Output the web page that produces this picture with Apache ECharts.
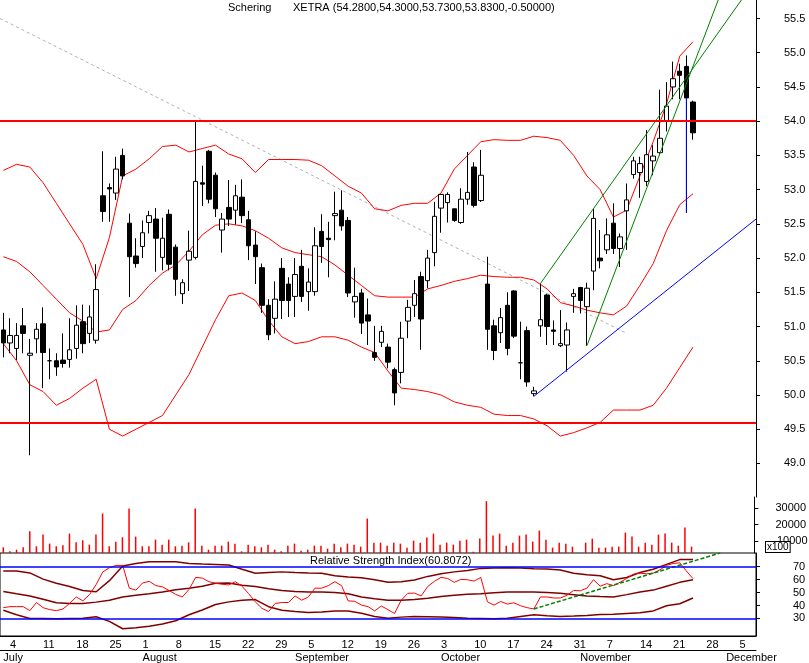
<!DOCTYPE html>
<html><head><meta charset="utf-8">
<script src="https://cdn.jsdelivr.net/npm/echarts@6/dist/echarts.min.js"></script>
<style>html,body{margin:0;padding:0;background:#fff}#c{width:809px;height:663px}</style>
</head><body><div id="c"></div>
<script>
// ---- data ----
const monthNames = ['July','August','September','October','November','December'];
const opens = [50.95,50.76,50.68,51.01,50.58,50.82,51.04,50.50,50.50,50.51,50.52,50.68,51.07,50.90,50.80,52.91,53.03,52.95,53.50,52.51,52.03,52.17,52.52,52.57,52.01,52.64,52.16,51.48,51.97,52.01,53.10,53.56,53.21,52.41,52.74,52.70,52.89,52.56,52.19,51.86,51.31,51.12,51.85,51.62,51.44,51.88,51.51,51.51,52.39,52.29,52.62,52.70,52.55,51.36,51.49,51.17,50.62,50.77,50.70,50.37,50.33,51.08,51.31,51.73,51.67,52.08,52.73,52.81,52.72,52.52,52.86,53.33,52.84,51.62,51.01,50.91,51.31,51.52,50.47,50.94,50.02,51.01,51.46,50.95,50.72,50.73,51.44,51.57,51.29,51.81,52.00,52.12,52.51,52.14,52.69,53.22,53.25,53.12,53.42,53.54,54.00,54.50,54.73,54.80,54.28];
const closes = [50.76,50.87,50.87,50.90,50.61,50.96,50.62,50.50,50.41,50.46,50.66,51.02,50.75,51.14,51.54,52.68,53.01,53.30,53.20,52.02,51.92,52.37,52.62,52.29,52.29,51.91,51.69,51.64,52.10,53.12,53.08,52.86,52.72,52.57,52.57,52.91,52.62,52.18,52.02,51.31,50.88,51.40,51.38,51.38,51.76,51.44,51.65,52.18,52.17,52.27,52.65,52.47,51.49,51.44,51.05,51.08,50.55,50.93,50.48,50.03,50.83,51.28,51.48,51.11,52.00,52.61,52.93,52.93,52.55,52.86,52.96,52.77,53.21,50.96,50.65,51.13,50.68,50.86,50.47,50.19,50.06,51.10,51.00,50.93,50.75,50.95,51.48,51.38,51.56,52.58,51.96,52.34,52.14,52.31,52.85,53.42,53.38,53.51,53.49,53.75,54.22,54.62,54.67,54.34,53.83];
const lows = [50.55,50.61,50.51,50.61,49.12,50.61,50.10,50.23,50.28,50.40,50.40,50.53,50.61,50.76,50.75,52.53,52.53,52.85,53.15,51.43,51.86,52.00,52.36,51.80,51.82,51.82,51.45,51.33,51.52,51.98,52.76,52.80,52.60,52.08,52.47,52.49,52.51,51.97,51.62,51.20,50.80,50.90,51.11,51.14,51.14,51.36,51.23,51.45,51.93,51.72,52.26,52.40,51.43,51.13,50.89,50.73,50.50,50.70,50.39,49.85,50.17,50.83,51.14,50.66,51.56,51.88,52.37,52.52,52.53,52.50,52.78,52.74,52.82,50.66,50.51,50.76,50.58,50.83,50.23,50.12,49.98,50.85,50.73,50.73,50.70,50.34,51.20,51.19,50.72,51.53,51.85,52.06,52.06,51.87,52.12,53.16,52.88,53.05,53.21,53.50,53.85,54.32,54.32,52.66,53.73];
const highs = [51.20,51.12,51.05,51.27,50.82,51.05,51.28,50.68,50.61,50.90,51.12,51.31,51.32,51.31,51.91,53.56,53.09,53.48,53.60,52.65,52.29,52.55,52.69,52.73,52.59,52.71,52.20,51.69,52.40,54.00,53.35,53.58,53.25,52.66,53.14,53.07,53.15,52.69,52.39,51.92,51.40,51.66,52.00,51.72,52.00,52.12,51.85,52.45,52.64,52.53,52.97,52.99,52.60,51.86,51.55,51.41,51.01,51.01,50.75,50.40,51.07,51.39,51.68,51.80,52.12,52.82,52.93,52.96,52.72,53.02,53.55,53.40,53.58,52.02,51.10,51.27,51.50,51.53,51.07,51.00,50.12,51.63,51.48,51.09,51.24,51.06,51.55,51.58,51.64,52.72,52.41,52.58,52.80,52.36,53.09,53.48,53.48,53.87,53.65,54.46,54.57,54.87,54.84,54.96,54.30];
const volumes = [6400,4000,5000,6400,16000,7000,14000,8600,7000,7600,14600,9400,10600,8000,14000,26600,7000,9800,12400,29600,12800,7000,7000,11000,8000,11000,7000,7400,9400,29600,7400,5000,7400,7400,9800,8600,4000,8000,7000,6400,8000,5000,4000,7400,8600,4400,5000,7400,7400,5600,8600,6400,8600,8000,6800,23600,9200,9200,7400,9200,8600,6200,10400,9200,12200,14600,8000,9200,8000,10400,11000,3800,11600,34000,13400,14600,7400,9200,13400,14000,9800,16400,11000,6200,9200,8600,6800,3000,9200,11600,6200,6200,6800,6800,15200,12800,6800,9200,8000,14000,14600,9200,7400,18200,6800];
const rsi = [38.3,39.1,39.1,39.1,36.0,42.3,38.3,36.8,36.0,37.3,41.6,46.6,43.6,48.4,56.2,66.0,69.2,71.0,71.0,53.4,51.9,57.4,58.7,55.4,54.4,51.6,48.6,46.6,52.4,61.7,61.2,58.4,57.2,56.4,55.9,58.4,54.9,49.1,42.8,37.8,35.3,41.6,42.3,42.3,47.4,44.1,46.6,53.4,53.4,55.4,58.4,55.4,43.6,43.2,40.3,39.1,35.8,39.6,36.8,33.8,44.1,49.4,49.6,47.4,54.7,58.7,61.7,60.9,57.9,60.2,59.9,58.9,61.7,42.8,40.3,43.1,41.1,42.1,39.8,38.3,37.3,46.6,46.6,45.8,45.8,47.9,51.6,51.4,53.4,59.9,54.9,56.9,55.4,57.9,60.9,64.2,65.0,64.5,65.0,67.5,71.0,72.5,73.0,66.7,60.8];
// band readings at every second trading day (0,2,...,104)
const bbUpper = [53.28,53.37,53.33,53.1,52.8,52.5,52.2,51.7,52.3,53.2,53.3,53.45,53.63,53.65,53.55,53.6,53.65,53.52,53.45,53.25,53.44,53.44,53.44,53.43,53.35,53.2,53.05,52.95,52.72,52.69,52.77,52.8,52.8,52.95,53.3,53.5,53.7,53.73,53.72,53.72,53.78,53.76,53.72,53.5,53.2,53.0,52.6,52.7,53.2,53.7,54.25,54.95,55.16];
const bbMiddle = [52.02,51.95,51.8,51.6,51.4,51.2,51.08,50.92,50.95,51.25,51.38,51.6,51.78,51.9,52.1,52.34,52.48,52.5,52.47,52.4,52.29,52.15,52.08,52.05,52.02,51.9,51.75,51.6,51.45,51.43,51.43,51.43,51.55,51.6,51.66,51.7,51.75,51.73,51.72,51.72,51.68,51.55,51.35,51.3,51.24,51.2,51.17,51.3,51.6,51.92,52.4,52.78,52.94];
const bbLower = [50.75,50.5,50.15,50.05,49.85,49.95,50.1,50.23,49.5,49.4,49.5,49.6,49.7,50.0,50.3,50.7,51.1,51.45,51.49,51.38,51.09,50.85,50.75,50.78,50.85,50.85,50.8,50.7,50.62,50.35,50.1,50.08,50.05,50.0,49.9,49.85,49.82,49.72,49.7,49.7,49.65,49.55,49.4,49.45,49.52,49.6,49.78,49.78,49.78,49.85,50.1,50.4,50.7];
const rsiUpper = [66.7,66.7,65.2,60.4,57.2,54.7,51.6,50.6,59.2,70.5,72.5,73.8,73.8,73.8,72.5,72.0,71.8,71.3,68.0,65.0,65.5,66.0,65.5,65.2,65.0,63.0,62.0,61.4,59.9,57.9,58.4,59.7,62.5,64.5,66.0,67.0,68.7,69.0,69.2,69.0,68.5,68.2,67.5,65.0,63.7,63.0,59.9,61.7,65.5,68.0,71.8,75.5,75.5];
const rsiMiddle = [50.9,49.1,47.4,44.8,42.1,41.6,41.6,42.6,44.1,46.6,47.9,49.1,50.4,52.1,53.4,54.9,57.2,57.4,55.7,54.7,52.9,51.6,50.9,50.4,50.4,50.1,49.1,46.6,45.3,44.1,44.1,44.6,45.6,46.9,47.9,48.6,49.1,49.9,50.4,50.4,50.4,50.1,49.4,48.4,47.4,46.9,46.6,48.4,50.4,51.9,54.9,57.9,59.9];
const rsiLower = [36.3,32.8,30.0,30.0,29.7,30.0,30.2,31.3,27.7,22.0,22.7,24.0,25.7,28.2,32.8,36.5,40.8,42.8,44.1,44.6,39.1,36.3,35.3,34.5,35.0,35.8,35.8,34.0,31.5,30.2,31.0,31.5,31.3,31.0,30.7,30.2,30.0,29.7,30.2,31.5,32.8,32.0,31.5,31.8,32.3,33.0,33.3,33.8,34.3,35.8,39.8,41.3,45.8];
const hLevels = [54.0, 49.6];
const grayTrend = [[-0.5,55.5],[94,50.9]];
const greenTrendA = [[81,51.63],[111.3,55.77]];
const greenTrendB = [[88,50.72],[107.8,55.77]];
const blueTrend = [[80,49.98],[113.5,52.57]];
const blueWick = [[103,54.34],[103,52.66]];
const rsiTrend = [[80,37.3],[108.1,80.6]];
const priceTicks = [49,49.5,50,50.5,51,51.5,52,52.5,53,53.5,54,54.5,55,55.5];
const volTicks = [20000,30000];
const rsiTicks = [30,40,50,60,70];

// trading-day categories Jul 1 2005 .. Dec 7 2005
const days = [];
for (let d = new Date(Date.UTC(2005,6,1)); d <= new Date(Date.UTC(2005,11,7)); d.setUTCDate(d.getUTCDate()+1)) {
  const wd = d.getUTCDay(); if (wd===0||wd===6) continue;
  days.push({m:d.getUTCMonth(), d:d.getUTCDate(), wd});
}
const cats = days.map((x,i)=>String(i));
const N = cats.length;
const isMon = i => days[i] && days[i].wd===1;
const isMonthStart = i => days[i] && (i===0 || days[i].m!==days[i-1].m);
const idx2 = bbUpper.map((_,k)=>k*2);
const pairs = (arr)=>arr.map((v,k)=>[idx2[k],v]);

const F = 'Liberation Sans, Arial, sans-serif';
const chart = echarts.init(document.getElementById('c'));
const L = 0, W = 756;
const noSym = {showSymbol:false, symbol:'none', silent:true};
const yLine = {show:true, onZero:false, lineStyle:{color:'#000'}};
chart.setOption({
  animation:false,
  textStyle:{fontFamily:F},
  grid:[
    {left:L, width:W, top:0, height:497, show:false},
    {left:L, width:W, top:497, height:56, show:false},
    {left:L, width:W, top:553, height:85, show:true, borderColor:'#000', borderWidth:1, backgroundColor:'transparent'}
  ],
  xAxis:[
    {type:'category', gridIndex:0, data:cats, show:false},
    {type:'value', gridIndex:0, min:-0.5, max:N-0.5, show:false},
    {type:'category', gridIndex:1, data:cats, show:false},
    {type:'category', gridIndex:2, data:cats, position:'bottom',
      axisLine:{onZero:false, lineStyle:{color:'#000'}},
      axisTick:{interval:(i)=>isMon(i)||isMonthStart(i), length:14, lineStyle:{color:'#000'}},
      axisLabel:{interval:(i)=>isMon(i), formatter:(v)=>String(days[+v].d), align:'left', margin:3, fontSize:11, color:'#000', fontFamily:F}},
    {type:'category', gridIndex:2, data:cats, position:'bottom', offset:14,
      axisLine:{onZero:false, lineStyle:{color:'#000'}},
      axisTick:{interval:(i)=>isMonthStart(i), length:12, lineStyle:{color:'#000'}},
      axisLabel:{interval:(i)=>isMonthStart(i), formatter:(v)=>monthNames[days[+v].m-6], align:'left', margin:2, fontSize:11, color:'#000', fontFamily:F}},
    {type:'value', gridIndex:2, min:-0.5, max:N-0.5, show:false}
  ],
  yAxis:[
    {type:'value', gridIndex:0, position:'right', min:48.51, max:55.77, splitLine:{show:false},
      axisLine:yLine,
      axisTick:{show:true, customValues:priceTicks, length:4, lineStyle:{color:'#000'}},
      axisLabel:{customValues:priceTicks, formatter:(v)=>v.toFixed(1), margin:28, fontSize:11, color:'#000', fontFamily:F}},
    {type:'value', gridIndex:1, position:'right', min:3000, max:36500, splitLine:{show:false},
      axisLine:yLine,
      axisTick:{show:true, customValues:[10000,20000,30000], length:4, lineStyle:{color:'#000'}},
      axisLabel:{customValues:volTicks, formatter:(v)=>String(v), margin:21, fontSize:11, color:'#000', fontFamily:F}},
    {type:'value', gridIndex:2, position:'right', min:16.4, max:80.6, splitLine:{show:false},
      axisLine:yLine,
      axisTick:{show:true, customValues:rsiTicks, length:4, lineStyle:{color:'#000'}},
      axisLabel:{customValues:rsiTicks, margin:37, fontSize:11, color:'#000', fontFamily:F}}
  ],
  series:[
    {type:'line', xAxisIndex:1, yAxisIndex:0, data:grayTrend, lineStyle:{color:'#b0b0b0', width:1, type:[3,3]}, ...noSym, z:1},
    {type:'line', xAxisIndex:1, yAxisIndex:0, data:pairs(bbUpper), lineStyle:{color:'#ff0000', width:1}, ...noSym, z:2},
    {type:'line', xAxisIndex:1, yAxisIndex:0, data:pairs(bbMiddle), lineStyle:{color:'#ff0000', width:1}, ...noSym, z:2},
    {type:'line', xAxisIndex:1, yAxisIndex:0, data:pairs(bbLower), lineStyle:{color:'#ff0000', width:1}, ...noSym, z:2},
    {type:'candlestick', xAxisIndex:0, yAxisIndex:0, barWidth:5, z:3,
      data:opens.map((o,i)=>[o,closes[i],lows[i],highs[i]]),
      itemStyle:{color:'#ffffff', color0:'#000000', borderColor:'#000000', borderColor0:'#000000', borderWidth:1},
      markLine:{silent:true, symbol:'none', label:{show:false}, lineStyle:{color:'#ff0000', width:2, type:'solid'},
        data:hLevels.map(v=>({yAxis:v}))}},
    {type:'line', xAxisIndex:1, yAxisIndex:0, data:greenTrendA, lineStyle:{color:'#008000', width:1}, ...noSym, z:4},
    {type:'line', xAxisIndex:1, yAxisIndex:0, data:greenTrendB, lineStyle:{color:'#008000', width:1}, ...noSym, z:4},
    {type:'line', xAxisIndex:1, yAxisIndex:0, data:blueTrend, lineStyle:{color:'#0000ff', width:1}, ...noSym, z:4},
    {type:'line', xAxisIndex:1, yAxisIndex:0, data:blueWick, lineStyle:{color:'#0000ff', width:1}, ...noSym, z:4},
    {type:'bar', xAxisIndex:2, yAxisIndex:1, data:volumes, barWidth:1.5, itemStyle:{color:'#ff0000'}, silent:true},
    {type:'line', xAxisIndex:5, yAxisIndex:2, data:pairs(rsiUpper), lineStyle:{color:'#800000', width:1.5}, ...noSym},
    {type:'line', xAxisIndex:5, yAxisIndex:2, data:pairs(rsiMiddle), lineStyle:{color:'#800000', width:1.5}, ...noSym},
    {type:'line', xAxisIndex:5, yAxisIndex:2, data:pairs(rsiLower), lineStyle:{color:'#800000', width:1.5}, ...noSym},
    {type:'line', xAxisIndex:5, yAxisIndex:2, data:rsi.map((v,i)=>[i,v]), lineStyle:{color:'#ff0000', width:1}, ...noSym,
      markLine:{silent:true, symbol:'none', label:{show:false}, lineStyle:{color:'#0000ff', width:1.5, type:'solid'},
        data:[{yAxis:70},{yAxis:30}]}},
    {type:'line', xAxisIndex:5, yAxisIndex:2, data:rsiTrend, lineStyle:{color:'#008000', width:1.5, type:[4,2]}, ...noSym}
  ],
  graphic:[
    {type:'text', left:228, top:2, style:{text:'Schering', font:'11px '+F, fill:'#000'}},
    {type:'text', left:293, top:2, style:{text:'XETRA (54.2800,54.3000,53.7300,53.8300,-0.50000)', font:'11px '+F, fill:'#000'}},
    {type:'text', left:310, top:555, style:{text:'Relative Strength Index(60.8072)', font:'11px '+F, fill:'#000'}},
    {type:'text', left:777, top:535, style:{text:'10000', font:'11px '+F, fill:'#000'}},
    {type:'text', left:765, top:541, style:{text:'x100', font:'10px '+F, fill:'#000', backgroundColor:'#fff', borderColor:'#000', borderWidth:1, padding:[0,1]}, z:10}
  ]
});
</script></body></html>
